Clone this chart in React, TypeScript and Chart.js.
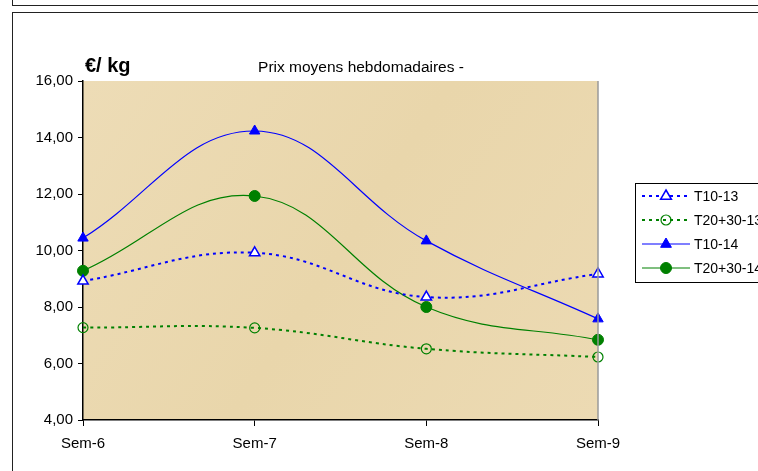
import React, { useEffect, useRef } from "react";
import { Chart, registerables } from "chart.js";

Chart.register(...registerables);

const categories = ["Sem-6", "Sem-7", "Sem-8", "Sem-9"];
const t10_13 = [8.92, 9.92, 8.35, 9.17];
const t2030_13 = [7.27, 7.26, 6.52, 6.23];
const t10_14 = [10.44, 14.23, 10.34, 7.58];
const t2030_14 = [9.28, 11.93, 8.0, 6.84];
const seriesNames = ["T10-13", "T20+30-13", "T10-14", "T20+30-14"];
const titleText = "Prix moyens hebdomadaires -";
const unitText = "€/ kg";

const FONT = "Arial, 'Liberation Sans', sans-serif";

export default function App() {
  const ref = useRef<HTMLCanvasElement | null>(null);

  useEffect(() => {
    const canvas = ref.current;
    if (!canvas) return;

    const bgPlugin = {
      id: "bgPlugin",
      beforeDraw(chart: any) {
        const { ctx, chartArea } = chart;
        const { left, top, right, bottom } = chartArea;
        ctx.save();
        const g = ctx.createLinearGradient(left, top, right, bottom);
        g.addColorStop(0, "#eddcb6");
        g.addColorStop(0.5, "#e9d6ab");
        g.addColorStop(1, "#ecdab3");
        ctx.fillStyle = g;
        ctx.fillRect(left, top, right - left, bottom - top);
        ctx.restore();
      },
      afterDraw(chart: any) {
        const { ctx, chartArea } = chart;
        ctx.save();
        // right border grey
        ctx.strokeStyle = "#9a9a9a";
        ctx.lineWidth = 1.5;
        ctx.beginPath();
        ctx.moveTo(chartArea.right, chartArea.top);
        ctx.lineTo(chartArea.right, chartArea.bottom);
        ctx.stroke();

        // titles
        ctx.fillStyle = "#000";
        ctx.font = `15.5px ${FONT}`;
        ctx.textAlign = "center";
        ctx.textBaseline = "alphabetic";
        ctx.fillText(titleText, 361, 72);
        ctx.font = `bold 20px ${FONT}`;
        ctx.textAlign = "left";
        ctx.fillText(unitText, 85, 72);

        // legend
        const lx = 635, ly = 183;
        ctx.fillStyle = "#ffffff";
        ctx.fillRect(lx, ly, 200, 99);
        ctx.strokeStyle = "#000";
        ctx.lineWidth = 1;
        ctx.strokeRect(lx + 0.5, ly + 0.5, 200, 99);
        chart.data.datasets.forEach((ds: any, i: number) => {
          const y = 196 + i * 24;
          ctx.save();
          ctx.strokeStyle = ds.borderColor;
          ctx.lineWidth = ds.borderWidth;
          ctx.setLineDash(ds.borderDash || []);
          ctx.beginPath();
          ctx.moveTo(642, y);
          ctx.lineTo(690, y);
          ctx.stroke();
          ctx.setLineDash([]);
          ctx.restore();
          // marker
          ctx.save();
          ctx.fillStyle = ds.pointBackgroundColor;
          ctx.strokeStyle = ds.pointBorderColor;
          ctx.lineWidth = ds.pointBorderWidth;
          const r = ds.pointRadius;
          const cx = 666;
          if (ds.pointStyle === "triangle") {
            ctx.beginPath();
            ctx.moveTo(cx, y - r);
            ctx.lineTo(cx + r * 0.9, y + r * 0.55);
            ctx.lineTo(cx - r * 0.9, y + r * 0.55);
            ctx.closePath();
            ctx.fill();
            ctx.stroke();
          } else {
            ctx.beginPath();
            ctx.arc(cx, y, r, 0, Math.PI * 2);
            ctx.fill();
            ctx.stroke();
          }
          ctx.restore();
          ctx.fillStyle = "#000";
          ctx.font = `14px ${FONT}`;
          ctx.textAlign = "left";
          ctx.textBaseline = "middle";
          ctx.fillText(ds.label, 694, y + 1);
        });
        ctx.restore();
      },
    };

    const chart = new Chart(canvas, {
      type: "line",
      data: {
        labels: categories,
        datasets: [
          {
            label: seriesNames[0],
            data: t10_13,
            borderColor: "#0000ff",
            borderWidth: 2,
            borderDash: [3, 4],
            pointStyle: "triangle",
            pointRadius: 6,
            pointBackgroundColor: "#ffffff",
            pointBorderColor: "#0000ff",
            pointBorderWidth: 1.5,
            tension: 0.4,
          },
          {
            label: seriesNames[1],
            data: t2030_13,
            borderColor: "#008000",
            borderWidth: 2,
            borderDash: [3, 4],
            pointStyle: "circle",
            pointRadius: 5,
            pointBackgroundColor: "rgba(0,0,0,0)",
            pointBorderColor: "#008000",
            pointBorderWidth: 1.2,
            tension: 0.4,
          },
          {
            label: seriesNames[2],
            data: t10_14,
            borderColor: "#0000ff",
            borderWidth: 1.2,
            pointStyle: "triangle",
            pointRadius: 6,
            pointBackgroundColor: "#0000ff",
            pointBorderColor: "#0000ff",
            pointBorderWidth: 1,
            tension: 0.4,
          },
          {
            label: seriesNames[3],
            data: t2030_14,
            borderColor: "#008000",
            borderWidth: 1.2,
            pointStyle: "circle",
            pointRadius: 5.5,
            pointBackgroundColor: "#008000",
            pointBorderColor: "#008000",
            pointBorderWidth: 1,
            tension: 0.4,
          },
        ],
      },
      options: {
        responsive: false,
        animation: false,
        devicePixelRatio: 1,
        layout: { padding: { left: 0, right: 160, top: 81, bottom: 0 } },
        plugins: {
          legend: { display: false },
          title: { display: false },
          tooltip: { enabled: false },
        },
        scales: {
          x: {
            offset: false,
            grid: {
              display: true,
              drawOnChartArea: false,
              drawTicks: true,
              tickLength: 6,
              color: "#000",
              offset: false,
            },
            border: { display: true, color: "#000", width: 1.5 },
            ticks: {
              color: "#000",
              font: { family: FONT, size: 15 },
              padding: 9,
              maxRotation: 0,
            },
            afterFit(scale: any) {
              scale.height = 51;
            },
          },
          y: {
            min: 4,
            max: 16,
            grid: {
              display: true,
              drawOnChartArea: false,
              drawTicks: true,
              tickLength: 5,
              color: "#000",
            },
            border: { display: true, color: "#000", width: 1.5 },
            ticks: {
              stepSize: 2,
              color: "#000",
              font: { family: FONT, size: 15 },
              padding: 5,
              callback: (v: any) => Number(v).toFixed(2).replace(".", ","),
            },
            afterFit(scale: any) {
              scale.width = 83;
            },
          },
        },
      },
      plugins: [bgPlugin],
    } as any);

    return () => chart.destroy();
  }, []);

  return (
    <div style={{ position: "absolute", left: 0, top: 0, width: 758, height: 471, overflow: "hidden", background: "#fff" }}>
      <div style={{ position: "absolute", left: 12, top: -20, width: 800, height: 24, border: "1.5px solid #222" }} />
      <div style={{ position: "absolute", left: 12, top: 12, width: 800, height: 500, border: "1.5px solid #222" }} />
      <canvas ref={ref} width={758} height={471} style={{ position: "absolute", left: 0, top: 0 }} />
    </div>
  );
}
